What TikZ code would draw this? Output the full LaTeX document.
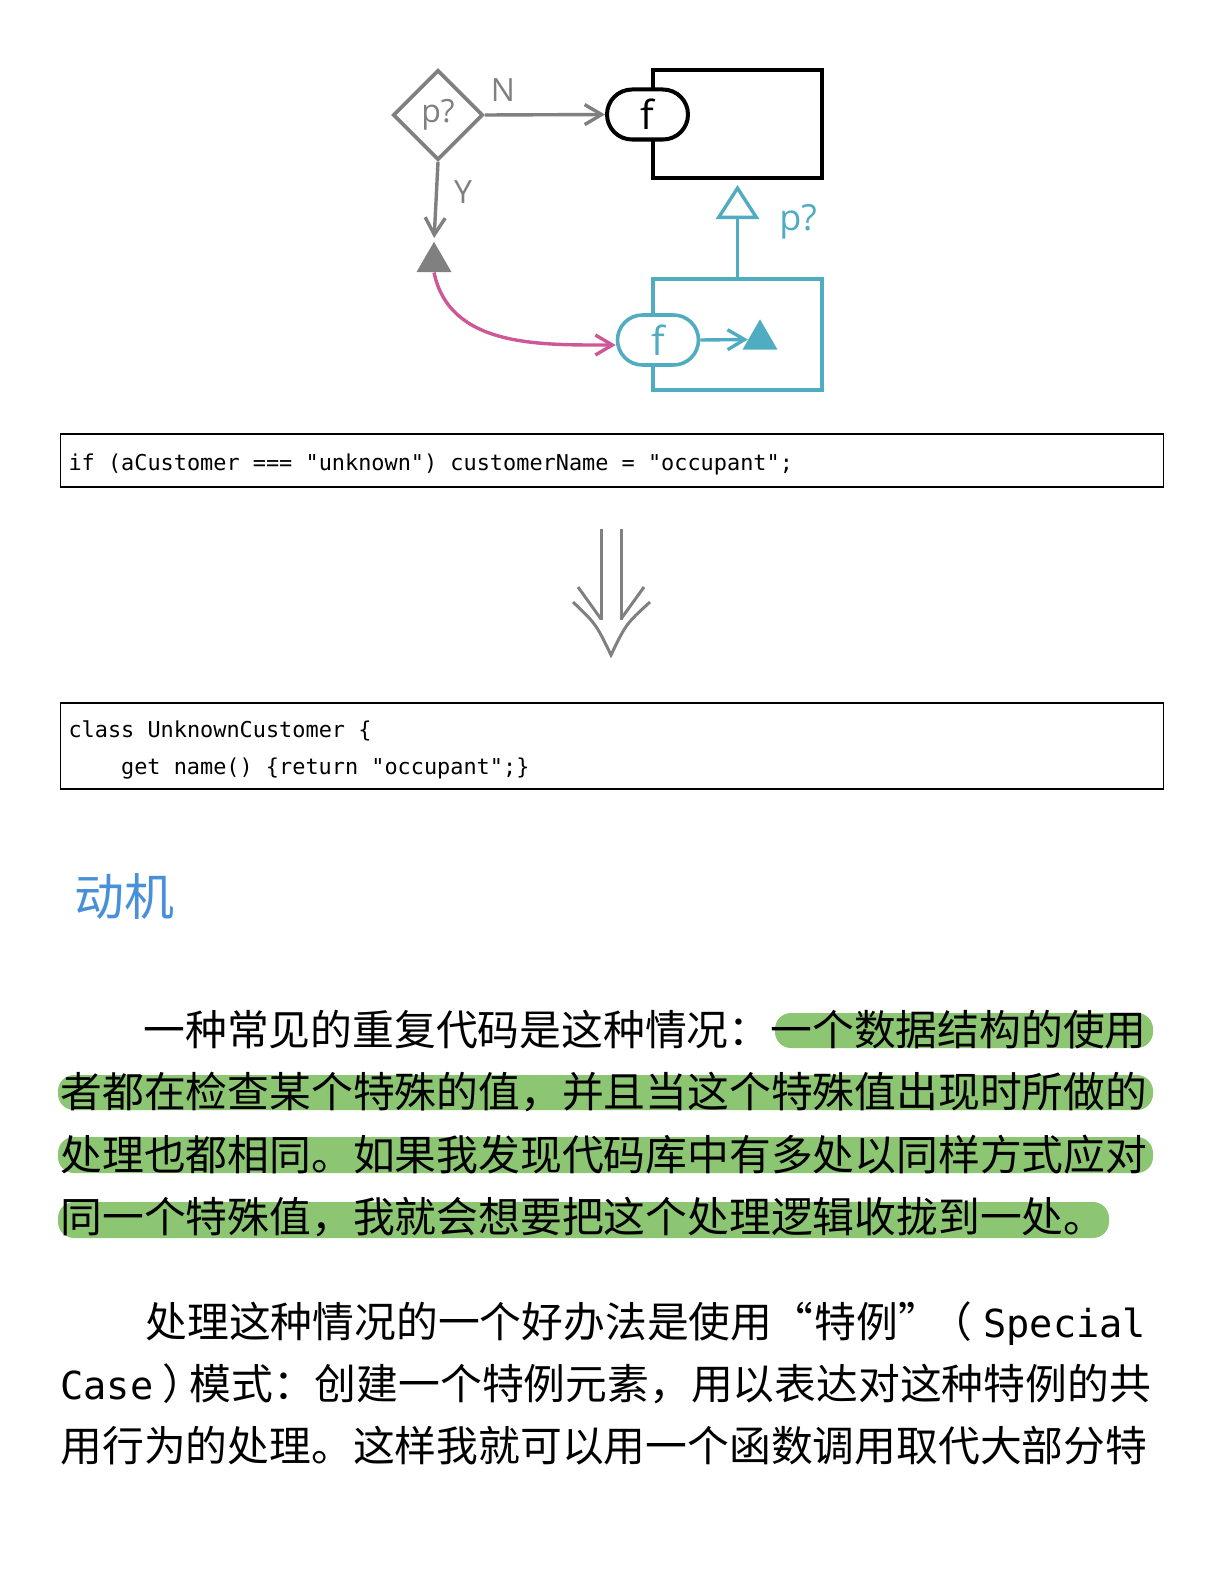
\documentclass[tikz,border=0pt]{standalone}
\usepackage{fontspec}
\setmainfont{Open Sans}
\newfontfamily\cjk{Noto Sans CJK SC}
\newfontfamily\codefont{DejaVu Sans Mono}
\newcommand\csp{\hskip\fontcharwd\font`x\relax}
\usetikzlibrary{arrows.meta, shapes.geometric}
\definecolor{flowgray}{RGB}{128,128,128}
\definecolor{flowteal}{RGB}{80,172,192}
\definecolor{flowpink}{RGB}{204,88,150}
\definecolor{marker}{RGB}{141,198,115}
\definecolor{headblue}{RGB}{74,144,217}

\begin{document}
\begin{tikzpicture}[x = 0.5pt, y = -0.5pt]
\tikzstyle{Decision}=[
shape = diamond,
draw = flowgray, line width = 1.9pt,
minimum width = 45pt, minimum height = 45pt,
inner sep = 0pt, text = flowgray,
font = \fontsize{16}{16}\selectfont]
\tikzstyle{Block}=[
shape = rectangle, line width = 2pt,
minimum width = 84.5pt]
\tikzstyle{Func}=[
shape = rectangle, rounded corners = 12.5pt,
line width = 2pt, fill = white,
minimum width = 40.5pt, minimum height = 25pt,
font = \fontsize{20}{20}\selectfont]
\tikzstyle{Token}=[
shape = regular polygon, regular polygon sides = 3,
minimum size = 20.2pt, inner sep = 0pt]
\tikzstyle{Label}=[font = \fontsize{16}{16}\selectfont]
\tikzstyle{post}=[-{Straight Barb[length = 8.5pt, width = 10pt]}, line width = 1.7pt]
\tikzstyle{Code}=[
draw, line width = 0.75pt, inner xsep = 4pt, inner ysep = 0pt,
text width = 543.5pt, align = left,
font = \codefont\fontsize{10.94}{18.5}\selectfont]
\tikzstyle{Body}=[anchor = base west, inner sep = 0pt,
font = \cjk\fontsize{20.9}{20.9}\selectfont]
\tikzstyle{Mono}=[anchor = base west, inner sep = 0pt,
font = \codefont\fontsize{19.3}{19.3}\selectfont]
\useasboundingbox (0,0) rectangle (1224,1584);
\node[Decision] (cond) at (438,115) {p?};
\node[Block, draw = black, minimum height = 54pt] (host) at (737.5,124) {};
\node[Block, draw = flowteal, line width = 1.8pt, minimum height = 55.5pt] (special) at (737.5,334.5) {};
\node[Func, draw = black] (fblack) at (647.5,114.5) {f};
\node[Func, draw = flowteal, line width = 1.8pt, text = flowteal] (fteal) at (658,340) {f};
\node[Token, fill = flowgray] (tri) at (434,262) {};
\node[Token, fill = flowteal] (tritarget) at (760,339.5) {};
\node[Label, text = flowgray] (lblN) at (503,90) {N};
\node[Label, text = flowgray] (lblY) at (463,192) {Y};
\node[Label, text = flowteal, font = \fontsize{18}{18}\selectfont] (lblp) at (798,222) {p?};
\draw[post, flowgray] (cond.east) -- (fblack.west);
\draw[post, flowgray, shorten > = 1.5pt] (cond.south) -- (tri.north);
\draw[post, flowpink] (tri.south) to[out = -78, in = 180] ([yshift = -2.5pt]fteal.west);
\draw[post, flowteal] (fteal.east) -- (tritarget.west);
\draw[-{Triangle[fill = white, length = 17pt, width = 21.5pt]}, flowteal, line width = 1.7pt, shorten > = 2.5pt] (special.north) -- (host.south);
\node[Code, minimum height = 26.5pt] (oldcode) at (612,460.5) {\rule{0pt}{12pt}if\csp(aCustomer\csp===\csp"unknown")\csp customerName\csp=\csp"occupant";};
\draw[flowgray, line width = 1.5pt] (601,529) -- (601,620) (621,529) -- (621,620);
\draw[flowgray, line width = 1.5pt] (578,587) -- (601,619) (644,587) -- (621,619);
\draw[flowgray, line width = 1.5pt] (573,602) .. controls (596,624) .. (611,655) .. controls (626,624) .. (650,602);
\node[Code, minimum height = 43pt] (newcode) at (612,746) {\rule{0pt}{12pt}class\csp UnknownCustomer\csp\{\\\hspace*{26.3pt}get\csp name()\csp\{return\csp"occupant";\}};
\node[anchor = base west, inner sep = 0pt, text = headblue, font = \cjk\fontsize{25}{25}\selectfont] (motive) at (74,915) {动机};
\fill[marker, rounded corners = 8pt] (775,1013) rectangle (1153,1048);
\fill[marker, rounded corners = 8pt] (58,1075) rectangle (1153,1110);
\fill[marker, rounded corners = 8pt] (58,1137) rectangle (1153,1173);
\fill[marker, rounded corners = 8pt] (58,1202) rectangle (1109,1238);
\node[Body] (pai) at (143,1045) {一种常见的重复代码是这种情况：一个数据结构的使用};
\node[Body] (paii) at (60,1107.5) {者都在检查某个特殊的值，并且当这个特殊值出现时所做的};
\node[Body] (paiii) at (60,1170) {处理也都相同。如果我发现代码库中有多处以同样方式应对};
\node[Body] (paiv) at (60,1232.5) {同一个特殊值，我就会想要把这个处理逻辑收拢到一处。};
\node[Body] (pbi) at (145,1337) {处理这种情况的一个好办法是使用};
\node[Body, anchor = base] (quoted) at (856,1337) {特例};
\node[Body, anchor = base east] (lq) at (quoted.base west) {“};
\node[Body] (rq) at (quoted.base east) {”};
\node[Body, anchor = base east] (lpar) at (973,1337) {（};
\node[Mono] (special-word) at (983,1337) {Special};
\node[Mono] (case-word) at (60,1399) {Case};
\node[Body] (rpar) at (162,1399) {）};
\node[Body] (pbii) at (189,1399) {模式：创建一个特例元素，用以表达对这种特例的共};
\node[Body] (pbiii) at (60,1461) {用行为的处理。这样我就可以用一个函数调用取代大部分特};
\end{tikzpicture}
\end{document}
